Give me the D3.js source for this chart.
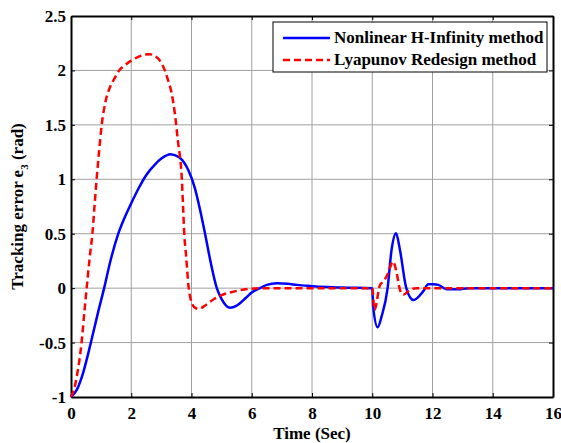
<!DOCTYPE html>
<html>
<head>
<meta charset="utf-8">
<script src="https://cdn.jsdelivr.net/npm/d3@7"></script>
<style>
    body { margin: 0; background: #fff; }
    svg text { font-family: "Liberation Serif", "Times New Roman", serif !important; font-weight: bold; }
</style>
</head>
<body>
<div id="chart"></div>
<script>
// Time samples and values
const hinfTime = [0, 0.2, 0.4, 0.66, 0.9, 1.1, 1.3, 1.57, 1.8, 2.0, 2.25, 2.5, 2.8, 3.0, 3.3, 3.6, 3.9, 4.1, 4.3, 4.45, 4.65, 4.84, 5.0, 5.28, 5.5, 5.8, 6.0, 6.27, 6.5, 6.83, 7.2, 7.5, 7.93, 8.5, 9.0, 10.0,
    10.03, 10.18, 10.31, 10.51, 10.64, 10.79, 10.92, 11.13, 11.37, 11.69, 11.86, 12.04, 12.19, 12.47, 12.85, 13.2, 16];
const hinfError = [-1, -0.93, -0.78, -0.5, -0.22, 0, 0.24, 0.5, 0.66, 0.78, 0.92, 1.04, 1.14, 1.19, 1.23, 1.2, 1.08, 0.93, 0.7, 0.5, 0.22, 0, -0.1, -0.18, -0.16, -0.09, -0.04, 0, 0.03, 0.045, 0.04, 0.03, 0.02, 0.01, 0.005, 0,
    -0.17, -0.36, -0.26, 0, 0.35, 0.505, 0.35, 0, -0.11, -0.03, 0.035, 0.035, 0.03, -0.01, -0.01, 0, 0];

const lyapTime = [0, 0.1, 0.2, 0.35, 0.45, 0.52, 0.62, 0.71, 0.78, 0.85, 0.93, 1.02, 1.15, 1.3, 1.45, 1.6, 1.8, 2.0, 2.2, 2.45, 2.62, 2.8, 2.95, 3.07, 3.2, 3.34, 3.45, 3.55, 3.62, 3.67, 3.72, 3.76, 3.82, 3.9, 3.97, 4.05, 4.15, 4.25, 4.5, 4.75, 5.0, 5.5, 6.0, 6.3, 10.0,
    10.07, 10.26, 10.37, 10.53, 10.69, 10.81, 10.92, 11.03, 11.25, 11.47, 16];
const lyapError = [-1, -0.93, -0.8, -0.5, -0.2, 0, 0.28, 0.5, 0.75, 1.0, 1.25, 1.5, 1.72, 1.85, 1.93, 2.0, 2.05, 2.09, 2.12, 2.145, 2.148, 2.13, 2.09, 2.03, 1.93, 1.79, 1.6, 1.35, 1.2, 1.05, 0.75, 0.5, 0.3, 0.02, -0.1, -0.16, -0.185, -0.19, -0.15, -0.1, -0.065, -0.025, -0.005, 0, 0,
    -0.2, 0.03, 0.06, 0.14, 0.245, 0.14, -0.015, -0.06, -0.015, 0, 0];

const xTicks = [0, 2, 4, 6, 8, 10, 12, 14, 16];
const yTicks = [-1, -0.5, 0, 0.5, 1, 1.5, 2, 2.5];
const seriesNames = ["Nonlinear H-Infinity method", "Lyapunov Redesign method"];

const width = 561, height = 443;
const margin = { top: 16, right: 8, bottom: 46, left: 71 };
const w = width - margin.left - margin.right;
const h = height - margin.top - margin.bottom;

const svg = d3.select('#chart')
    .append('svg')
    .attr('width', width)
    .attr('height', height);

const g = svg.append('g')
    .attr('transform', 'translate(' + margin.left + ',' + margin.top + ')');

const x = d3.scaleLinear().domain([0, 16]).range([0, w]);
const y = d3.scaleLinear().domain([-1, 2.5]).range([h, 0]);

// grid
g.selectAll('.vgrid')
    .data(xTicks.slice(1, -1)).join('line')
    .attr('x1', d => x(d)).attr('x2', d => x(d))
    .attr('y1', 0).attr('y2', h)
    .attr('stroke', '#a0a0a0').attr('stroke-width', 1);
g.selectAll('.hgrid')
    .data(yTicks.slice(1, -1)).join('line')
    .attr('x1', 0).attr('x2', w)
    .attr('y1', d => y(d)).attr('y2', d => y(d))
    .attr('stroke', '#a0a0a0').attr('stroke-width', 1);

// axes with inward ticks, matlab style
const fmt = d => String(d);
const xAxis = g.append('g')
    .attr('transform', 'translate(0,' + h + ')')
    .call(d3.axisBottom(x).tickValues(xTicks).tickFormat(fmt).tickSizeInner(-4).tickSizeOuter(0).tickPadding(10));
const xAxisTop = g.append('g')
    .call(d3.axisTop(x).tickValues(xTicks).tickSizeInner(-4).tickSizeOuter(0).tickFormat(''));
const yAxis = g.append('g')
    .call(d3.axisLeft(y).tickValues(yTicks).tickFormat(fmt).tickSizeInner(-4).tickSizeOuter(0).tickPadding(5));
const yAxisRight = g.append('g')
    .attr('transform', 'translate(' + w + ',0)')
    .call(d3.axisRight(y).tickValues(yTicks).tickSizeInner(-4).tickSizeOuter(0).tickFormat(''));

[xAxis, xAxisTop, yAxis, yAxisRight].forEach(a => {
    a.attr('font-family', null);
    a.select('.domain').attr('stroke', '#000').attr('stroke-width', 2);
    a.selectAll('.tick line').attr('stroke', '#000');
    a.selectAll('text').attr('font-size', 17).attr('fill', '#000');
});

const line = d3.line()
    .x(d => x(d[0]))
    .y(d => y(d[1]))
    .curve(d3.curveMonotoneX);

const hinf = hinfTime.map((t, i) => [t, hinfError[i]]);
const lyap = lyapTime.map((t, i) => [t, lyapError[i]]);

g.append('path')
    .datum(hinf)
    .attr('d', line)
    .attr('fill', 'none')
    .attr('stroke', '#0000ff')
    .attr('stroke-width', 2.5);

g.append('path')
    .datum(lyap)
    .attr('d', line)
    .attr('fill', 'none')
    .attr('stroke', '#ff0000')
    .attr('stroke-width', 2.5)
    .attr('stroke-dasharray', '7,4');

// legend
const legend = svg.append('g').attr('transform', 'translate(273,22)');
legend.append('rect')
    .attr('width', 274).attr('height', 50)
    .attr('fill', '#fff').attr('stroke', '#000').attr('stroke-width', 1);
const styles = [{ color: '#0000ff', dash: null }, { color: '#ff0000', dash: '7,4' }];
seriesNames.forEach((name, i) => {
    const row = legend.append('g').attr('transform', 'translate(0,' + (16 + i * 22) + ')');
    row.append('line')
        .attr('x1', 10).attr('x2', 57)
        .attr('stroke', styles[i].color)
        .attr('stroke-width', 2.5)
        .attr('stroke-dasharray', styles[i].dash);
    row.append('text')
        .attr('x', 61).attr('y', 5)
        .attr('font-size', 17)
        .text(name);
});

// axis labels
svg.append('text')
    .attr('x', margin.left + w / 2)
    .attr('y', 439)
    .attr('text-anchor', 'middle')
    .attr('font-size', 17)
    .text('Time (Sec)');

const ylab = svg.append('text')
    .attr('transform', 'translate(23,' + (margin.top + h / 2) + ') rotate(-90)')
    .attr('text-anchor', 'middle')
    .attr('font-size', 17);
ylab.append('tspan').text('Tracking error e');
ylab.append('tspan').attr('font-size', 11).attr('dy', 5).text('3');
ylab.append('tspan').attr('dy', -5).text(' (rad)');
</script>
</body>
</html>
